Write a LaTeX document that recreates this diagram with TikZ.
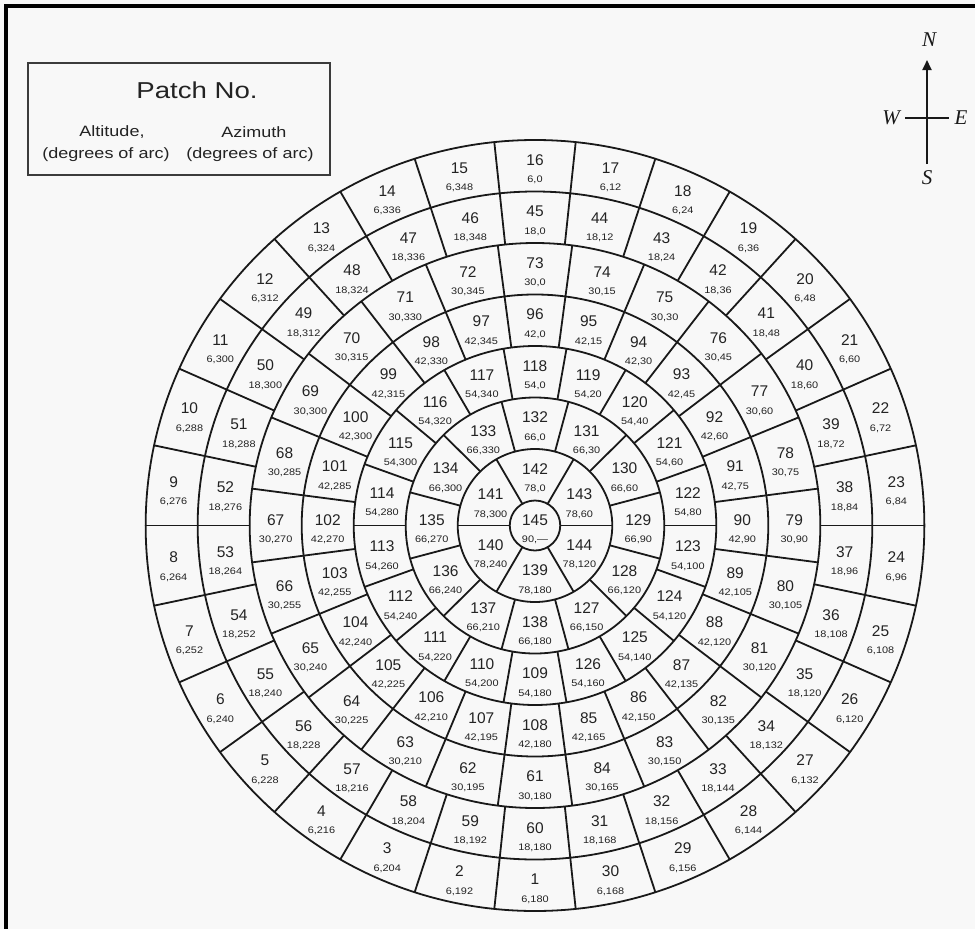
\documentclass[tikz,border=0pt]{standalone}
\usepackage{fontspec}
\setmainfont{Liberation Sans}
\newfontfamily\numfont{Liberation Sans}
\newfontfamily\subfont[FakeStretch=1.15]{Liberation Sans}
\newfontfamily\legfont[FakeStretch=1.2]{Liberation Sans}
\newfontfamily\compfont{Liberation Serif}
\usetikzlibrary{arrows.meta}
\definecolor{bg}{RGB}{248,248,248}
\definecolor{ink}{RGB}{25,25,25}
\definecolor{txt}{RGB}{35,35,35}
\begin{document}
\begin{tikzpicture}[x=1pt,y=-1pt,
  gridline/.style={draw=ink,line width=1.8pt},
  numlab/.style={font=\numfont\fontsize{15.5}{15.5}\selectfont,text=txt,inner sep=0pt,text height=11pt,text depth=0pt},
  sublab/.style={font=\subfont\fontsize{9.5}{9.5}\selectfont,text=txt,inner sep=0pt,text height=6.8pt,text depth=0pt},
  legbig/.style={font=\legfont\fontsize{23}{23}\selectfont,text=txt,inner sep=0pt},
  legsmall/.style={font=\legfont\fontsize{15}{15}\selectfont,text=txt,inner sep=0pt},
  compass/.style={font=\compfont\itshape\fontsize{21}{21}\selectfont,text=ink,inner sep=0pt},
  frameline/.style={draw=black,line width=3.5pt},
  legbox/.style={draw=ink!85,line width=2pt}]
\fill[bg] (0,0) rectangle (975,929);
\useasboundingbox (0,0) rectangle (975,929);
% frame (top and left edges)
\coordinate (f1) at (6,929);
\coordinate (f2) at (6,6);
\coordinate (f3) at (975,6);
\draw[frameline] (f1) -- (f2) -- (f3);
% legend
\draw[legbox] (28,63) rectangle (330,175);
\node[legbig] (lp) at (197,90) {Patch No.};
\node[legsmall] (la1) at (112,132) {Altitude,};
\node[legsmall] (la2) at (106,155) {(degrees of arc)};
\node[legsmall] (lz1) at (254,132) {Azimuth};
\node[legsmall] (lz2) at (250,155) {(degrees of arc)};
% compass
\node[compass] (cN) at (929,40) {N};
\node[compass] (cW) at (891,118) {W};
\node[compass] (cE) at (961,118) {E};
\node[compass] (cS) at (927,178) {S};
\coordinate (cb) at (927,164);
\coordinate (ct) at (927,60);
\coordinate (cl) at (905,118);
\coordinate (cr) at (949,118);
\draw[ink,line width=1.8pt,-{Triangle[length=10pt,width=9pt]}] (cb) -- (ct);
\draw[ink,line width=1.8pt] (cl) -- (cr);
% rings
\foreach \rr in {25,76.5,128,179.5,231,282.5,334,385.5}{
  \pgfmathsetmacro\rx{1.01*\rr}
  \draw[gridline] (535,525.5) ellipse [x radius=\rx pt, y radius=\rr pt];
}
% radial dividers
\foreach \rin/\rout/\ss in {25/76.5/60, 76.5/128/30, 128/179.5/20, 179.5/231/15, 231/282.5/15, 282.5/334/12, 334/385.5/12}{
  \pgfmathtruncatemacro\nn{360/\ss-1}
  \foreach \kk in {0,...,\nn}{
    \pgfmathsetmacro\bang{\ss/2+\kk*\ss}
    \draw[gridline] ({535+1.01*\rin*sin(\bang)},{525.5-\rin*cos(\bang)}) -- ({535+1.01*\rout*sin(\bang)},{525.5-\rout*cos(\bang)});
  }
}
% labels
\foreach \pa/\pb/\alt/\azs/\st/\rmid in {1/30/6/180/12/359.75, 31/60/18/168/-12/308.25, 61/84/30/180/15/256.75, 85/108/42/165/-15/205.25, 109/126/54/180/20/153.75, 127/138/66/150/-30/102.25, 139/144/78/180/60/50.75}{
  \foreach \kk in {\pa,...,\pb}{
    \pgfmathsetmacro\ang{\azs+\st*(\kk-\pa)}
    \pgfmathtruncatemacro\azd{mod(\ang+720,360)}
    \pgfmathsetmacro\px{535+1.01*\rmid*sin(\ang)}
    \pgfmathsetmacro\py{525.5-\rmid*cos(\ang)}
    \node[numlab] (n\kk) at (\px,\py-6) {\kk};
    \node[sublab] (s\kk) at (\px,\py+13.5) {\alt,\azd};
  }
}
\node[numlab] (n145) at (535,519.5) {145};
\node[sublab] (s145) at (535,539) {90,\textemdash};
\end{tikzpicture}
\end{document}
